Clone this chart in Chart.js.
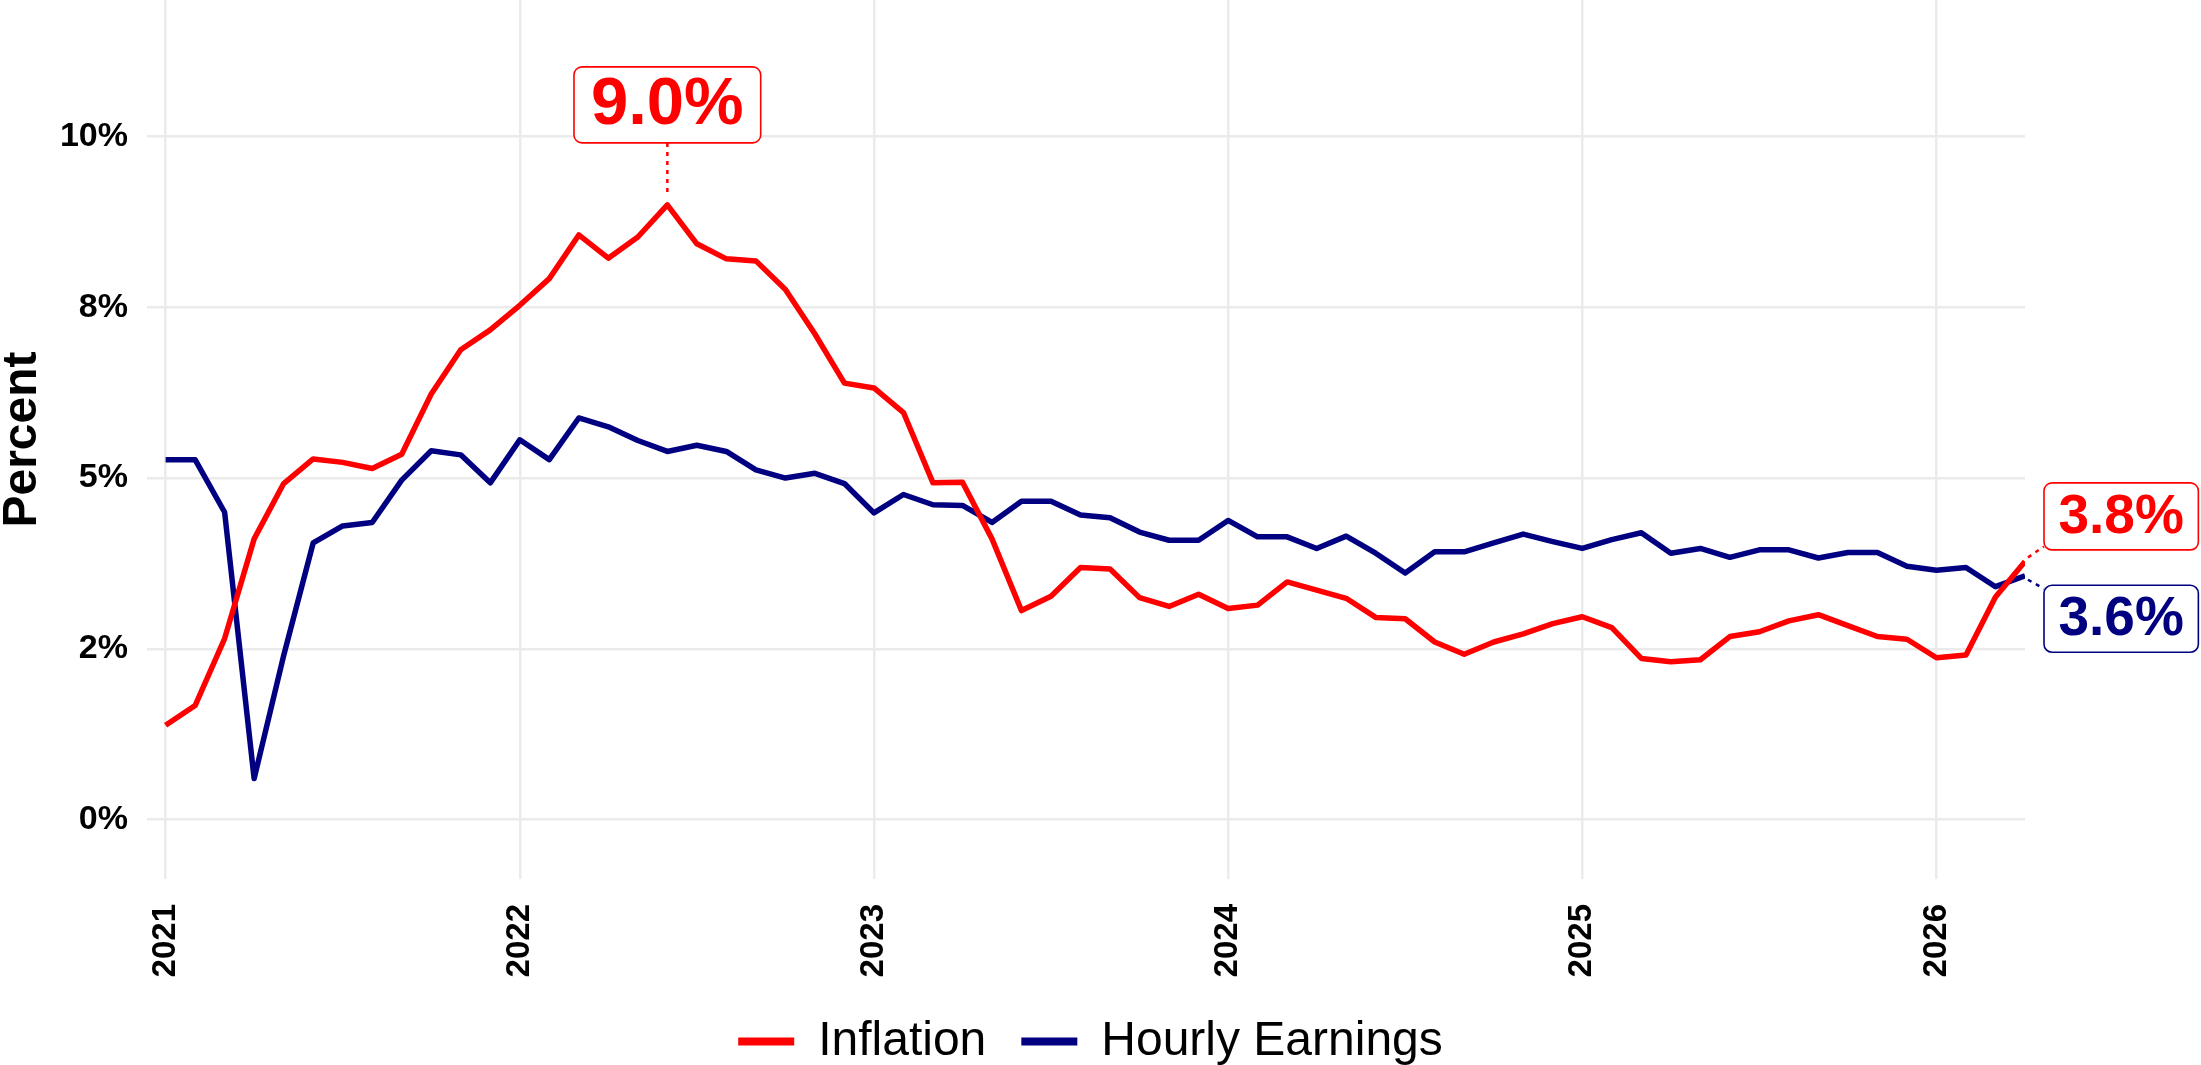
<!DOCTYPE html>
<html>
<head>
<meta charset="utf-8">
<script src="https://cdn.jsdelivr.net/npm/chart.js@4.4.1/dist/chart.umd.min.js"></script>
<style>
  html, body { margin: 0; padding: 0; background: #fff; }
  #wrap { width: 2201px; height: 1065px; }
</style>
</head>
<body>
<div id="wrap"><canvas id="chart" width="2201" height="1065"></canvas></div>
<script>
// monthly year-on-year rates, Jan 2021 .. Apr 2026
const inflation = [
  1.38, 1.67, 2.65, 4.11, 4.92, 5.28, 5.23, 5.14, 5.35, 6.23,
  6.88, 7.17, 7.53, 7.92, 8.56, 8.22, 8.53, 9.00, 8.43, 8.21,
  8.18, 7.76, 7.11, 6.39, 6.32, 5.96, 4.93, 4.94, 4.11, 3.06,
  3.27, 3.69, 3.67, 3.25, 3.12, 3.30, 3.09, 3.14, 3.48, 3.36,
  3.24, 2.96, 2.94, 2.60, 2.42, 2.60, 2.72, 2.87, 2.97, 2.81,
  2.36, 2.31, 2.34, 2.68, 2.75, 2.91, 3.00, 2.84, 2.68, 2.64,
  2.37, 2.41, 3.26, 3.78
];
const hourlyEarnings = [
  5.27, 5.27, 4.50, 0.60, 2.40, 4.05, 4.30, 4.35, 4.97, 5.40,
  5.34, 4.93, 5.56, 5.27, 5.88, 5.75, 5.55, 5.39, 5.48, 5.39,
  5.12, 5.00, 5.07, 4.92, 4.49, 4.76, 4.61, 4.60, 4.35, 4.66,
  4.66, 4.46, 4.42, 4.21, 4.09, 4.09, 4.38, 4.14, 4.14, 3.97,
  4.15, 3.90, 3.61, 3.92, 3.92, 4.05, 4.18, 4.07, 3.97, 4.10,
  4.20, 3.90, 3.97, 3.84, 3.95, 3.95, 3.83, 3.91, 3.91, 3.71,
  3.65, 3.69, 3.41, 3.57
];
const yearLabels = ['2021', '2022', '2023', '2024', '2025', '2026'];
const yearTickMonths = [0, 12, 24, 36, 48, 60];
const yTickValues = [0, 2.5, 5, 7.5, 10];
const yTickLabels = ['0%', '2%', '5%', '8%', '10%'];

const FONT = '"Liberation Sans", Arial, Helvetica, sans-serif';
const RED = '#FF0000';
const NAVY = '#000080';

function drawTag(ctx, text, cx, cy, size, color, padX, h) {
  ctx.save();
  ctx.font = `bold ${size}px ${FONT}`;
  const w = ctx.measureText(text).width + padX * 2;
  ctx.beginPath();
  ctx.roundRect(cx - w / 2, cy - h / 2, w, h, 8);
  ctx.fillStyle = '#fff';
  ctx.fill();
  ctx.lineWidth = 1.6;
  ctx.strokeStyle = color;
  ctx.stroke();
  ctx.fillStyle = color;
  ctx.textAlign = 'center';
  ctx.textBaseline = 'middle';
  ctx.fillText(text, cx, cy + 1);
  ctx.restore();
}

function dotted(ctx, x1, y1, x2, y2, color) {
  ctx.save();
  ctx.strokeStyle = color;
  ctx.lineWidth = 2.5;
  ctx.setLineDash([4, 5]);
  ctx.beginPath();
  ctx.moveTo(x1, y1);
  ctx.lineTo(x2, y2);
  ctx.stroke();
  ctx.restore();
}

const tagPlugin = {
  id: 'valueTags',
  afterDatasetsDraw(chart) {
    const ctx = chart.ctx;
    const infPts = chart.getDatasetMeta(0).data;
    const hrsPts = chart.getDatasetMeta(1).data;

    // peak inflation
    let peak = 0;
    inflation.forEach((v, i) => { if (v > inflation[peak]) peak = i; });
    const pk = infPts[peak];
    const pkBoxY = pk.y - 100;
    dotted(ctx, pk.x, pkBoxY + 38, pk.x, pk.y - 12, RED);
    drawTag(ctx, inflation[peak].toFixed(1) + '%', pk.x, pkBoxY, 67, RED, 17, 76);

    // latest values
    const li = infPts[infPts.length - 1];
    const lh = hrsPts[hrsPts.length - 1];
    const boxLeft = li.x + 19;
    ctx.save();
    ctx.font = `bold 55px ${FONT}`;
    const wI = ctx.measureText(inflation[inflation.length - 1].toFixed(1) + '%').width + 29;
    const wH = ctx.measureText(hourlyEarnings[hourlyEarnings.length - 1].toFixed(1) + '%').width + 29;
    ctx.restore();

    const iy = li.y - 45;
    const hy = lh.y + 43;
    dotted(ctx, li.x + 3, li.y - 4, boxLeft, iy + 30, RED);
    dotted(ctx, lh.x + 3, lh.y + 4, boxLeft, hy - 30, NAVY);
    drawTag(ctx, inflation[inflation.length - 1].toFixed(1) + '%', boxLeft + wI / 2, iy, 55, RED, 14.5, 67);
    drawTag(ctx, hourlyEarnings[hourlyEarnings.length - 1].toFixed(1) + '%', boxLeft + wH / 2, hy, 55, NAVY, 14.5, 67);
  }
};

new Chart(document.getElementById('chart'), {
  type: 'line',
  data: {
    datasets: [
      {
        label: 'Inflation',
        data: inflation.map((v, i) => ({ x: i, y: v })),
        borderColor: RED,
        backgroundColor: RED,
        borderWidth: 5.5,
        borderJoinStyle: 'round',
        pointRadius: 0,
        tension: 0
      },
      {
        label: 'Hourly Earnings',
        data: hourlyEarnings.map((v, i) => ({ x: i, y: v })),
        borderColor: NAVY,
        backgroundColor: NAVY,
        borderWidth: 5.5,
        borderJoinStyle: 'round',
        pointRadius: 0,
        tension: 0
      }
    ]
  },
  options: {
    responsive: false,
    animation: false,
    devicePixelRatio: 1,
    layout: { padding: { left: -20, right: 0, top: 0, bottom: -10.5 } },
    scales: {
      x: {
        type: 'linear',
        min: -0.63,
        max: 63,
        afterBuildTicks: s => { s.ticks = yearTickMonths.map(v => ({ value: v })); },
        ticks: {
          autoSkip: false,
          minRotation: 90,
          maxRotation: 90,
          padding: 25,
          color: '#000',
          font: { family: FONT, size: 33, weight: 'bold' },
          callback: (v, i) => yearLabels[i]
        },
        grid: { color: '#EBEBEB', lineWidth: 2.5, drawTicks: false },
        border: { display: false },
        afterFit: s => { s.height = 103.5; }
      },
      y: {
        min: -0.87,
        max: 12,
        afterBuildTicks: s => { s.ticks = yTickValues.map(v => ({ value: v })); },
        ticks: {
          padding: 19,
          color: '#000',
          font: { family: FONT, size: 34, weight: 'bold' },
          callback: (v, i) => yTickLabels[i]
        },
        grid: { color: '#EBEBEB', lineWidth: 2.5, drawTicks: false },
        border: { display: false },
        title: {
          display: true,
          text: 'Percent',
          color: '#000',
          font: { family: FONT, size: 48, weight: 'bold', lineHeight: 1.2 },
          padding: { top: 14, bottom: 0 }
        },
        afterFit: s => { s.width = 167; s.paddingTop = 0; s.paddingBottom = 0; }
      },
      yRight: {
        position: 'right',
        grid: { display: false },
        ticks: { display: false },
        border: { display: false },
        afterFit: s => { s.width = 176; s.paddingTop = 0; s.paddingBottom = 0; }
      }
    },
    plugins: {
      tooltip: { enabled: false },
      legend: {
        position: 'bottom',
        labels: {
          color: '#000',
          font: { family: FONT, size: 48 },
          boxWidth: 56,
          boxHeight: 8,
          padding: 35,
          generateLabels: chart => Chart.defaults.plugins.legend.labels.generateLabels(chart)
            .map(it => Object.assign(it, { fillStyle: it.strokeStyle, lineWidth: 0 }))
        }
      }
    }
  },
  plugins: [tagPlugin]
});
</script>
</body>
</html>
